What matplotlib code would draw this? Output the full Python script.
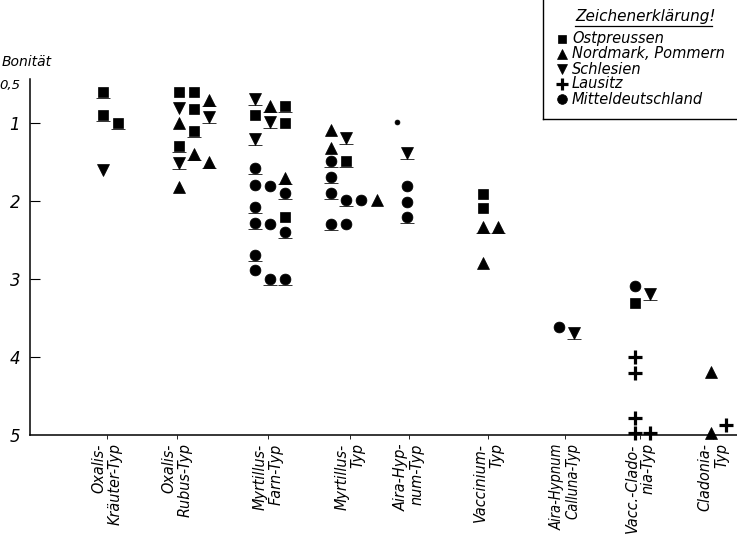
import matplotlib
matplotlib.use("Agg")
import matplotlib.pyplot as plt
from matplotlib.path import Path
import numpy as np

# ---- categories (forest site types) and regions ----
CATEGORIES = [
    "Oxalis-\nKräuter-Typ",
    "Oxalis-\nRubus-Typ",
    "Myrtillus-\nFarn-Typ",
    "Myrtillus-\nTyp",
    "Aira-Hyp-\nnum-Typ",
    "Vaccinium-\nTyp",
    "Aira-Hypnum\nCalluna-Typ",
    "Vacc.-Clado-\nnia-Typ",
    "Cladonia-\nTyp",
]
REGIONS = ["Ostpreussen", "Nordmark, Pommern", "Schlesien", "Lausitz",
           "Mitteldeutschland"]

Y_TICKS = [0.5, 1, 2, 3, 4, 5]
Y_TICK_LABELS = ["0,5", "1", "2", "3", "4", "5"]

# Each point: site type index, column within the group, Bonität value,
# and whether the value is underlined in the table of sample plots.
# Ostpreussen
ost_cat = [0, 0, 0, 1, 1, 1, 1, 1, 2, 2, 2, 2, 3, 5, 5, 7]
ost_col = [0, 0, 1, 0, 1, 1, 1, 0, 2, 0, 2, 2, 1, 0, 0, 0]
ost_val = [0.60, 0.90, 1.00, 0.60, 0.60, 0.82, 1.10, 1.29, 0.78, 0.90, 1.00,
           2.21, 1.49, 1.91, 2.09, 3.31]
ost_ul = [1, 1, 1, 0, 0, 0, 1, 1, 1, 0, 0, 0, 1, 0, 0, 0]

# Nordmark, Pommern
nor_cat = [1, 1, 1, 1, 1, 2, 2, 3, 3, 3, 5, 5, 5, 8, 8]
nor_col = [2, 0, 1, 2, 0, 1, 2, 0, 0, 3, 0, 1, 0, 0, 0]
nor_val = [0.71, 1.00, 1.40, 1.50, 1.82, 0.78, 1.70, 1.09, 1.32, 1.99, 2.33,
           2.33, 2.79, 4.19, 4.97]
nor_ul = [1, 0, 1, 1, 0, 1, 1, 0, 0, 0, 1, 1, 0, 0, 0]

# Schlesien
sch_cat = [0, 1, 1, 1, 2, 2, 2, 3, 4, 6, 7]
sch_col = [0, 0, 2, 0, 0, 1, 0, 1, 0, 1, 1]
sch_val = [1.60, 0.81, 0.92, 1.51, 0.69, 0.99, 1.20, 1.19, 1.38, 3.69, 3.19]
sch_ul = [0, 0, 1, 1, 1, 1, 1, 1, 1, 1, 1]

# Lausitz
lau_cat = [7, 7, 7, 7, 7, 8]
lau_col = [0, 0, 0, 0, 1, 1]
lau_val = [4.00, 4.21, 4.78, 4.97, 4.97, 4.87]
lau_ul = [0, 0, 0, 0, 0, 0]

# Mitteldeutschland
mit_cat = [2, 2, 2, 2, 2, 2, 2, 2, 2, 2, 2, 2,
           3, 3, 3, 3, 3, 3, 3,
           4, 4, 4, 4, 6, 7]
mit_col = [0, 0, 1, 2, 0, 0, 1, 2, 0, 0, 1, 2,
           0, 0, 0, 1, 2, 0, 1,
           -0.67, 0, 0, 0, 0, 0]
mit_val = [1.58, 1.79, 1.81, 1.90, 2.08, 2.28, 2.29, 2.40, 2.69, 2.88, 3.00,
           3.00,
           1.49, 1.69, 1.90, 1.99, 1.99, 2.29, 2.29,
           0.99, 1.81, 2.01, 2.21, 3.62, 3.09]
mit_ul = [1, 0, 0, 1, 1, 1, 0, 1, 1, 0, 1, 1,
          1, 1, 1, 1, 0, 1, 0,
          0, 0, 0, 1, 0, 0]
# single plot drawn as a small dot
mit_small = [0] * 19 + [1] + [0] * 5

SERIES = [
    (ost_cat, ost_col, ost_val, ost_ul, None),
    (nor_cat, nor_col, nor_val, nor_ul, None),
    (sch_cat, sch_col, sch_val, sch_ul, None),
    (lau_cat, lau_col, lau_val, lau_ul, None),
    (mit_cat, mit_col, mit_val, mit_ul, mit_small),
]

# ---- styling ----
MARKERS = [
    dict(marker="s", ms=6.6, mfc="black", mec="black", mew=0.5),
    dict(marker="^", ms=8.2, mfc="black", mec="black", mew=0.5),
    dict(marker="v", ms=8.2, mfc="black", mec="black", mew=0.5),
    dict(marker="+", ms=9.5, mfc="black", mec="black", mew=2.3),
    dict(marker="o", ms=7.8, mfc="black", mec="black", mew=0.5),
]
COL_GAP = 0.2            # spacing between columns inside a group (category units)
LABEL_SHIFT = [0.05, -0.03, 0.17, 0.25, 0.03, 0.07, 0.08, 0.07, 0.03]

plt.rcParams["font.family"] = ["DejaVu Sans"]

W, H = 737, 539
fig = plt.figure(figsize=(W / 100, H / 100), dpi=100)
fig.patch.set_facecolor("white")

y_top_px, y_bot_px = 84, 435
ax = fig.add_axes([30 / W, 1 - y_bot_px / H, 1 - 30 / W, (y_bot_px - y_top_px) / H])
ax.set_ylim(5, 0.5)
ax.set_xlim((30 - 103) / 76, (737 - 103) / 76)

for sp in ["top", "right"]:
    ax.spines[sp].set_visible(False)
for sp in ["left", "bottom"]:
    ax.spines[sp].set_linewidth(1.1)
ax.spines["left"].set_bounds(5, 0.44)

# underline marker: short bar below the symbol
underline = Path([(-1, -0.95), (1, -0.95)], [Path.MOVETO, Path.LINETO])

for (cats, cols, vals, uls, small), style in zip(SERIES, MARKERS):
    x = np.array(cats, float) + np.array(cols, float) * COL_GAP
    y = np.array(vals, float)
    sm = np.zeros(len(x), bool) if small is None else np.array(small, bool)
    ax.plot(x[~sm], y[~sm], ls="none", clip_on=False, zorder=3, **style)
    if sm.any():
        st = dict(style)
        st["ms"] = style["ms"] * 0.45
        ax.plot(x[sm], y[sm], ls="none", clip_on=False, zorder=3, **st)
    u = np.array(uls, bool)
    if u.any():
        ax.plot(x[u], y[u], ls="none", marker=underline, ms=9.5,
                mec="#333333", mew=0.7, clip_on=False, zorder=2)

# y axis
ax.set_yticks(Y_TICKS)
ax.set_yticklabels(Y_TICK_LABELS, fontstyle="italic", fontsize=12)
ax.tick_params(axis="y", direction="in", length=7, width=0.8, pad=7)
ax.yaxis.get_major_ticks()[0].tick1line.set_visible(False)
ax.yaxis.get_major_ticks()[-1].tick1line.set_visible(False)
ax.get_yticklabels()[0].set_fontsize(9.5)

# x axis
xt = [i + s for i, s in enumerate(LABEL_SHIFT)]
ax.set_xticks(xt)
ax.set_xticklabels(CATEGORIES, rotation=90, fontstyle="italic",
                   fontsize=11.5, fontstretch="condensed", ha="center",
                   va="top", multialignment="right", linespacing=1.1)
ax.tick_params(axis="x", direction="out", length=3, width=0.6, pad=3)
ax.get_xticklabels()[6].set_fontsize(10.5)

fig.text(2 / W, 1 - 62 / H, "Bonität", fontstyle="italic", fontsize=10,
         ha="left", va="center")

# ---- legend box (drawn in pixel coordinates) ----
lg = fig.add_axes([0, 0, 1, 1], zorder=5)
lg.set_xlim(0, W)
lg.set_ylim(H, 0)
lg.axis("off")
lg.plot([543, 543], [0, 119], color="black", lw=1.0)
lg.plot([543, 737], [119, 119], color="black", lw=1.0)
lg.text(575, 17, "Zeichenerklärung!", fontstyle="italic", fontsize=11,
        ha="left", va="center")
lg.plot([575, 712], [26, 26], color="black", lw=0.9)
rows = [39, 54, 69, 84, 99]
for name, style, yy in zip(REGIONS, MARKERS, rows):
    st = dict(style)
    st["ms"] = style["ms"] * 0.9
    lg.plot([562], [yy], ls="none", **st)
    lg.text(572, yy, name, fontstyle="italic", fontsize=10.5,
            ha="left", va="center")

fig.savefig("out.png", dpi=100, facecolor="white")
